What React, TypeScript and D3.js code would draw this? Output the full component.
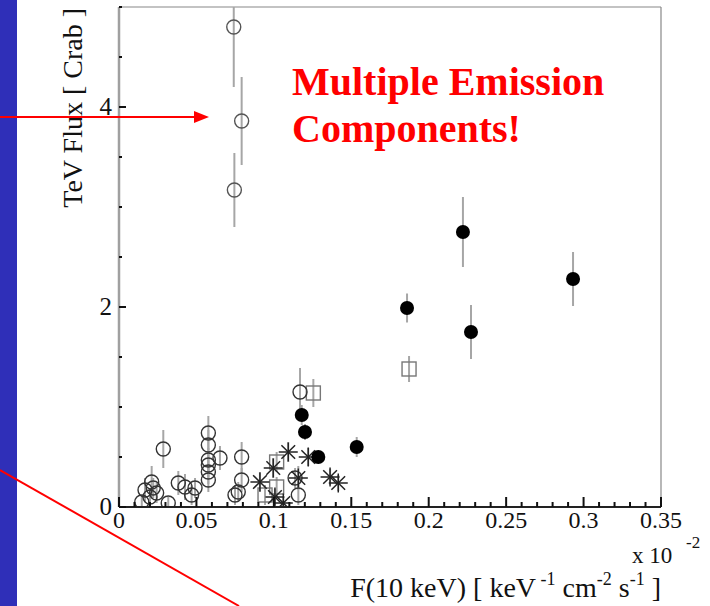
import React from "react";
import * as d3 from "d3";

// ---- data (x in units of 1e-2 keV^-1 cm^-2 s^-1, y in Crab) ----
const openCircleX = [0.0741, 0.0792, 0.0745, 0.0286, 0.0211, 0.0168, 0.0221, 0.020, 0.0243, 0.0147, 0.0318, 0.0383, 0.0426, 0.0491, 0.0469, 0.0577, 0.0577, 0.0577, 0.0577, 0.0577, 0.0577, 0.0652, 0.0792, 0.0792, 0.0749, 0.0770, 0.1169, 0.1137, 0.1158];
const openCircleY = [4.80, 3.86, 3.17, 0.58, 0.25, 0.17, 0.19, 0.10, 0.14, 0.05, 0.04, 0.24, 0.20, 0.19, 0.12, 0.74, 0.62, 0.47, 0.42, 0.35, 0.27, 0.49, 0.50, 0.27, 0.12, 0.15, 1.15, 0.29, 0.12];
const openCircleErr = [0.6, 0.44, 0.37, 0.19, 0.16, 0.12, 0.10, 0.08, 0.10, 0.06, 0.06, 0.12, 0.13, 0.10, 0.10, 0.17, 0.15, 0.12, 0.12, 0.12, 0.12, 0.12, 0.15, 0.12, 0.10, 0.10, 0.24, 0.10, 0.10];

const filledX = [0.118, 0.1201, 0.1287, 0.1535, 0.186, 0.2221, 0.2273, 0.2932];
const filledY = [0.92, 0.75, 0.50, 0.60, 1.99, 2.75, 1.75, 2.28];
const filledErr = [0.10, 0.08, 0.05, 0.10, 0.145, 0.35, 0.27, 0.27];

const squareX = [0.1873, 0.1255, 0.1018, 0.1018, 0.0943];
const squareY = [1.38, 1.14, 0.45, 0.20, 0.12];
const squareErr = [0.13, 0.14, 0.10, 0.10, 0.10];

const starX = [0.1093, 0.0996, 0.1222, 0.091, 0.1158, 0.1363, 0.1416, 0.1007, 0.1061];
const starY = [0.55, 0.39, 0.50, 0.25, 0.29, 0.30, 0.24, 0.10, 0.04];
const starErr = [0.10, 0.10, 0.09, 0.10, 0.12, 0.08, 0.08, 0.08, 0.06];

const xMajorTicks = [0, 0.05, 0.1, 0.15, 0.2, 0.25, 0.3, 0.35];
const xTickLabels = ["0", "0.05", "0.1", "0.15", "0.2", "0.25", "0.3", "0.35"];
const yMajorTicks = [0, 2, 4];
const yTickLabels = ["0", "2", "4"];

const W = 710, H = 606;
const left = 119, right = 661, top = 7, bottom = 507;

const zip = (xs: number[], ys: number[], es: number[]) => xs.map((x, i) => ({ x, y: ys[i], e: es[i] }));

export default function App() {
  const x = d3.scaleLinear().domain([0, 0.35]).range([left, right]);
  const y = d3.scaleLinear().domain([0, 5]).range([bottom, top]);

  const xMinor = d3.range(0, 0.3501, 0.01).filter(v => !xMajorTicks.some(m => Math.abs(m - v) < 1e-6));
  const yMinor = d3.range(0, 5.001, 0.5).filter(v => !yMajorTicks.some(m => Math.abs(m - v) < 1e-6));

  const opens = zip(openCircleX, openCircleY, openCircleErr);
  const filled = zip(filledX, filledY, filledErr);
  const squares = zip(squareX, squareY, squareErr);
  const stars = zip(starX, starY, starErr);
  const all = [...opens, ...filled, ...squares, ...stars];

  const serif = "'Liberation Serif', 'Times New Roman', serif";
  const r = 7;
  const s = 9.5;

  return (
    <div style={{ position: "absolute", left: 0, top: 0 }}>
      <svg width={W} height={H} style={{ display: "block", background: "#fff" }}>
        <defs>
          <clipPath id="plotclip">
            <rect x={left} y={top} width={right - left} height={bottom - top} />
          </clipPath>
        </defs>
        {/* frame */}
        <line x1={left} y1={top} x2={right} y2={top} stroke="#888" strokeWidth={1.2} />
        <line x1={right} y1={top} x2={right} y2={bottom} stroke="#888" strokeWidth={1.2} />

        {/* error bars */}
        <g clipPath="url(#plotclip)">
          {all.map((d, i) => (
            <line key={"e" + i} x1={x(d.x)} x2={x(d.x)} y1={y(d.y + d.e)} y2={y(Math.max(0, d.y - d.e))} stroke="#a6a6a6" strokeWidth={2} />
          ))}
        </g>

        {/* markers */}
        <g clipPath="url(#plotclip)">
          {squares.map((d, i) => (
            <rect key={"s" + i} x={x(d.x) - r} y={y(d.y) - r} width={2 * r} height={2 * r} fill="none" stroke="#777" strokeWidth={1.4} />
          ))}
          {opens.map((d, i) => (
            <circle key={"o" + i} cx={x(d.x)} cy={y(d.y)} r={r} fill="none" stroke={d.y > 3 ? "#555" : "#333"} strokeWidth={1.4} />
          ))}
          {stars.map((d, i) => {
            const cx = x(d.x), cy = y(d.y);
            const k = s * 0.72;
            return (
              <g key={"t" + i} stroke="#222" strokeWidth={1.5}>
                <line x1={cx - s} y1={cy} x2={cx + s} y2={cy} />
                <line x1={cx} y1={cy - s} x2={cx} y2={cy + s} />
                <line x1={cx - k} y1={cy - k} x2={cx + k} y2={cy + k} />
                <line x1={cx - k} y1={cy + k} x2={cx + k} y2={cy - k} />
              </g>
            );
          })}
          {filled.map((d, i) => (
            <circle key={"f" + i} cx={x(d.x)} cy={y(d.y)} r={r} fill="#000" />
          ))}
        </g>

        {/* axes */}
        <line x1={left} y1={top} x2={left} y2={bottom} stroke="#a0a0a0" strokeWidth={2.5} />
        <line x1={left} y1={bottom} x2={right} y2={bottom} stroke="#222" strokeWidth={2} />
        {xMinor.map((v, i) => (
          <line key={"xm" + i} x1={x(v)} x2={x(v)} y1={bottom} y2={bottom - 5} stroke="#111" strokeWidth={2} />
        ))}
        {xMajorTicks.map((v, i) => (
          <line key={"xM" + i} x1={x(v)} x2={x(v)} y1={bottom} y2={bottom - 10} stroke="#111" strokeWidth={2} />
        ))}
        {yMinor.map((v, i) => (
          <line key={"ym" + i} x1={left} x2={left + 3} y1={y(v)} y2={y(v)} stroke="#111" strokeWidth={2} />
        ))}
        {yMajorTicks.map((v, i) => (
          <line key={"yM" + i} x1={left} x2={left + 7} y1={y(v)} y2={y(v)} stroke="#111" strokeWidth={2} />
        ))}

        {/* tick labels */}
        {xMajorTicks.map((v, i) => (
          <text key={"xl" + i} x={x(v)} y={bottom + 21} textAnchor="middle" fontFamily={serif} fontSize={24} fill="#111">{xTickLabels[i]}</text>
        ))}
        {yMajorTicks.map((v, i) => (
          <text key={"yl" + i} x={left - 7} y={y(v) + 8} textAnchor="end" fontFamily={serif} fontSize={25} fill="#111">{yTickLabels[i]}</text>
        ))}

        {/* axis titles */}
        <text transform={`translate(82,${top + 1}) rotate(-90)`} textAnchor="end" fontFamily={serif} fontSize={28} fill="#111">TeV Flux [ Crab ]</text>
        <text x={632} y={563} fontFamily={serif} fontSize={23} fill="#111">x 10</text>
        <text x={686} y={548} fontFamily={serif} fontSize={17} fill="#111">-2</text>
        <text x={661} y={597} textAnchor="end" fontFamily={serif} fontSize={28} fill="#111">
          F(10 keV) [ keV
          <tspan dy={-12} fontSize={18}> -1</tspan>
          <tspan dy={12}> cm</tspan>
          <tspan dy={-12} fontSize={18}>-2</tspan>
          <tspan dy={12}> s</tspan>
          <tspan dy={-12} fontSize={18}>-1</tspan>
          <tspan dy={12}> ]</tspan>
        </text>

        {/* annotation */}
        <text x={292} y={95} fontFamily={serif} fontWeight="bold" fontSize={40} fill="#f00">Multiple Emission</text>
        <text x={292} y={142} fontFamily={serif} fontWeight="bold" fontSize={40} fill="#f00">Components!</text>

        {/* slide decorations */}
        <rect x={0} y={0} width={17} height={H} fill="#2f2fb8" />
        <line x1={0} y1={117} x2={196} y2={117} stroke="#f00" strokeWidth={2} />
        <path d="M 209 117 L 194 111 L 194 123 Z" fill="#f00" />
        <line x1={0} y1={470} x2={239} y2={606} stroke="#f00" strokeWidth={2} />
      </svg>
    </div>
  );
}
